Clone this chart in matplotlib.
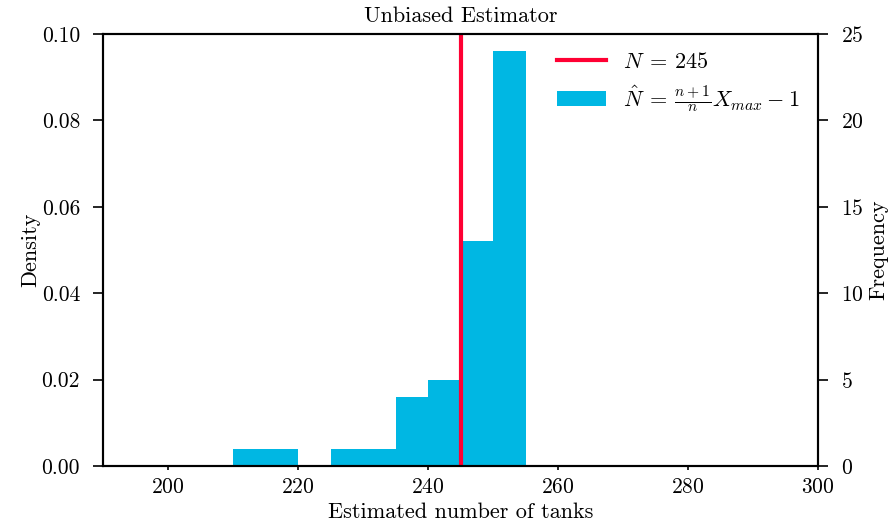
import matplotlib
matplotlib.use("Agg")
import matplotlib.pyplot as plt
import numpy as np

plt.rcParams['font.family'] = 'serif'
plt.rcParams['font.serif'] = ['cmr10']
plt.rcParams['mathtext.fontset'] = 'cm'
plt.rcParams['axes.formatter.use_mathtext'] = True
plt.rcParams['axes.unicode_minus'] = False

bin_edges = [210, 215, 220, 225, 230, 235, 240, 245, 250, 255]
counts = [1, 1, 0, 1, 1, 4, 5, 13, 24]
true_N = 245

fig = plt.figure(figsize=(8.91, 5.27), dpi=100)
ax = fig.add_axes([103/891, 1 - 466/527, (818-103)/891, (466-34)/527])
ax.hist(bin_edges[:-1], bins=bin_edges, weights=counts, density=True,
        color='#00B7E3', label=r'$\hat{N}\:=\:\frac{n+1}{n}X_{max}\:-\:1$')
ax.axvline(true_N, color='#FF0033', lw=3, label=r'$N\:=\:%d$' % true_N)
ax.set_xlim(190, 300)
ax.set_ylim(0, 0.10)
ax.set_yticks([0, 0.02, 0.04, 0.06, 0.08, 0.10])
ax.set_yticklabels(['0.00', '0.02', '0.04', '0.06', '0.08', '0.10'])
ax.set_xlabel('Estimated number of tanks', fontsize=16, labelpad=4)
ax.set_ylabel('Density', fontsize=16, labelpad=1)
ax.set_title('Unbiased Estimator', fontsize=16, pad=8.5)
ax.tick_params(axis='y', labelsize=15.5, direction='out', width=1.2, length=7.5, pad=9)
ax.tick_params(axis='x', labelsize=15.5, direction='out', width=1.2, length=3, pad=5)
for s in ax.spines.values():
    s.set_linewidth(1.5)

ax2 = ax.twinx()
total = sum(counts)
bw = bin_edges[1] - bin_edges[0]
ax2.set_ylim(0, 0.10 * total * bw)
ax2.set_yticks([0, 5, 10, 15, 20, 25])
ax2.set_ylabel('Frequency', fontsize=16, labelpad=4)
ax2.tick_params(labelsize=15.5, direction='out', width=1.2, length=7.5, pad=9)
for s in ax2.spines.values():
    s.set_linewidth(1.5)

h, l = ax.get_legend_handles_labels()
ax.legend(h[::-1], l[::-1], loc='upper right', frameon=False, fontsize=16,
          handlelength=2.2, handletextpad=0.8, borderaxespad=0.4)

fig.savefig('out.png', dpi=100)
